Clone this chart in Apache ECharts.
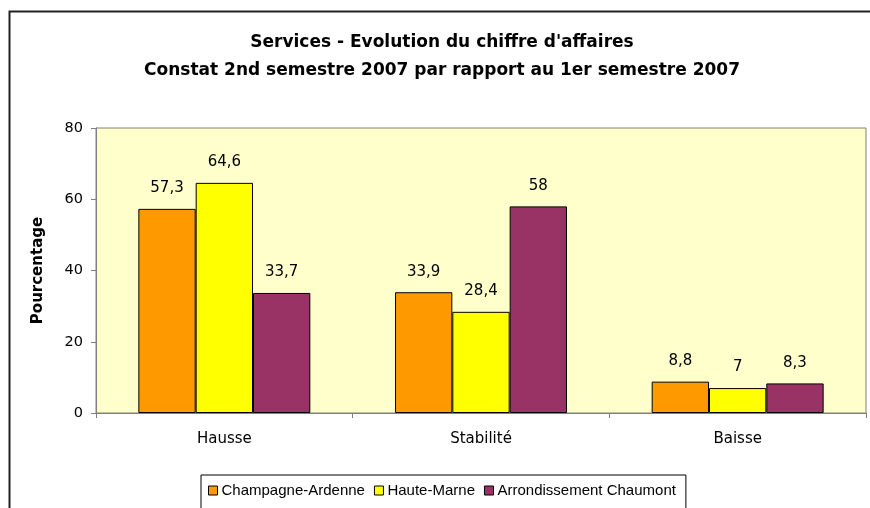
<!DOCTYPE html>
<html><head><meta charset="utf-8">
<script src="https://cdn.jsdelivr.net/npm/echarts@6/dist/echarts.min.js"></script>
<style>html,body{margin:0;padding:0;background:#fff}#c{width:870px;height:508px}</style>
</head><body><div id="c"></div>
<script>
const categories = ['Hausse', 'Stabilité', 'Baisse'];
const seriesNames = ['Champagne-Ardenne', 'Haute-Marne', 'Arrondissement Chaumont'];
const champagneArdenne = [57.3, 33.9, 8.8];
const hauteMarne = [64.6, 28.4, 7];
const arrondissementChaumont = [33.7, 58, 8.3];
const yTicks = [0, 20, 40, 60, 80];
const colors = ['#FF9900', '#FFFF00', '#993366'];

const FONT = '"DejaVu Sans", Verdana, sans-serif';
const LFONT = '"Liberation Sans", Arial, sans-serif';
const chart = echarts.init(document.getElementById('c'), null, {renderer: 'canvas'});
const values = [champagneArdenne, hauteMarne, arrondissementChaumont];
chart.setOption({
  backgroundColor: '#fff',
  animation: false,
  title: {
    text: 'Services - Evolution du chiffre d\'affaires\nConstat 2nd semestre 2007 par rapport au 1er semestre 2007',
    left: 437, textAlign: 'center', top: 24,
    textStyle: {fontFamily: FONT, fontSize: 17, fontWeight: 'bold', color: '#000', lineHeight: 28}
  },
  graphic: [{
    type: 'rect', shape: {x: 9.5, y: 11.5, width: 900, height: 600},
    style: {fill: 'none', stroke: '#222', lineWidth: 2}, z: -1
  }],
  legend: {
    data: seriesNames,
    left: 201, top: 475,
    orient: 'horizontal',
    itemWidth: 9, itemHeight: 9, itemGap: 9,
    icon: 'rect',
    padding: [8, 10, 30, 7],
    borderColor: '#000', borderWidth: 1,
    backgroundColor: '#fff',
    textStyle: {fontFamily: LFONT, fontSize: 15, color: '#000', padding: [0, 0, 0, -1]},
    itemStyle: {borderColor: '#000', borderWidth: 1}
  },
  grid: {
    left: 96, top: 128, right: 4, bottom: 95,
    show: true, backgroundColor: '#FFFFCC', borderColor: '#808080', borderWidth: 1
  },
  xAxis: {
    type: 'category', data: categories,
    axisLine: {lineStyle: {color: '#808080', width: 1}},
    axisTick: {show: true, length: 5, lineStyle: {color: '#808080'}},
    axisLabel: {fontFamily: FONT, fontSize: 15, color: '#000', margin: 19}
  },
  yAxis: {
    type: 'value', min: 0, max: 80, interval: 20,
    name: 'Pourcentage', nameLocation: 'middle', nameGap: 50, nameRotate: 90,
    nameTextStyle: {fontFamily: FONT, fontSize: 15, fontWeight: 'bold', color: '#000'},
    axisLine: {show: true, lineStyle: {color: '#808080', width: 1}},
    axisTick: {show: true, length: 5, lineStyle: {color: '#808080'}},
    axisLabel: {fontFamily: FONT, fontSize: 14.5, color: '#000', margin: 13,
      formatter: v => yTicks.includes(v) ? String(v) : ''},
    splitLine: {show: false}
  },
  series: seriesNames.map((n, i) => ({
    name: n, type: 'bar', data: values[i],
    barGap: '0%', barCategoryGap: '33%',
    itemStyle: {color: colors[i], borderColor: '#000', borderWidth: 1},
    label: {show: true, position: 'top', distance: 13,
      fontFamily: FONT, fontSize: 15, color: '#000',
      formatter: p => String(p.value).replace('.', ',')}
  }))
});
</script></body></html>
